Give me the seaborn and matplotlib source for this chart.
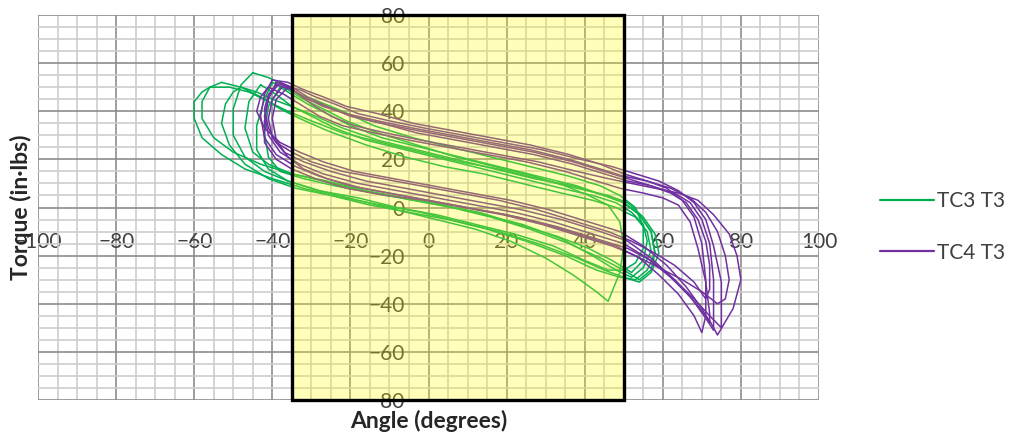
import pandas as pd
import matplotlib.pyplot as plt
import seaborn as sns
from matplotlib.ticker import MultipleLocator

# %% data
series_names = ["TC3 T3", "TC4 T3"]
series_colors = ["#00B050", "#7030A0"]
x_ticks = list(range(-100, 101, 20))
y_ticks = list(range(-80, 81, 20))
band_left, band_right = -35, 50  # shaded angle range

# TC3 T3, one list per cycle (upper branch left->right, then lower branch back)
tc3_angle = [
    [-53, -48, -43, -38, -33, -26, -16, -6, 4, 14, 24, 34, 42, 48, 53, 56, 57, 55, 52,
     48, 42, 34, 24, 14, 4, -6, -16, -26, -35, -43, -50, -55, -58, -58, -56, -53],
    [-45, -41, -37, -33, -28, -22, -14, -4, 6, 16, 26, 36, 44, 49, 53, 55, 55, 53, 50,
     46, 40, 32, 22, 12, 2, -8, -18, -28, -36, -42, -47, -50, -50, -48, -45],
    [-40, -36, -32, -27, -21, -13, -3, 7, 17, 27, 35, 41, 46, 49, 50, 49, 47, 46,
     43, 37, 30, 21, 12, 2, -8, -18, -28, -36, -41, -44, -44, -42, -40],
    [-38, -35, -31, -26, -20, -12, -2, 8, 18, 28, 38, 45, 50, 54, 57, 58, 57, 54,
     50, 44, 36, 26, 16, 6, -4, -14, -24, -32, -38, -41, -42, -41, -38],
    [-56, -51, -46, -41, -36, -30, -22, -12, -2, 8, 18, 28, 38, 46, 51, 55, 58, 59, 57, 54,
     50, 45, 38, 28, 18, 8, -2, -12, -22, -32, -40, -47, -53, -58, -60, -60, -58, -56],
    [-43, -39, -35, -30, -24, -16, -6, 4, 14, 24, 34, 42, 48, 52, 55, 56, 55, 52,
     47, 41, 33, 23, 13, 3, -7, -17, -27, -35, -41, -45, -47, -46, -43],
    [-48, -44, -40, -35, -29, -22, -13, -3, 7, 17, 27, 37, 45, 50, 54, 57, 58, 56, 53,
     49, 43, 35, 25, 15, 5, -5, -15, -25, -34, -41, -47, -51, -53, -52, -50, -48],
]
tc3_torque = [
    [52, 50, 46, 41, 37, 32, 26, 21, 17, 14, 10, 6, 3, 0, -4, -10, -18, -25, -29,
     -26, -20, -13, -7, -3, 1, 4, 7, 11, 14, 18, 23, 29, 37, 44, 50, 52],
    [56, 54, 51, 47, 44, 40, 34, 29, 25, 21, 17, 13, 9, 5, 0, -8, -17, -23, -26,
     -26, -22, -16, -11, -7, -3, 0, 4, 7, 11, 15, 21, 30, 41, 51, 56],
    [52, 49, 45, 41, 36, 31, 26, 21, 17, 13, 9, 5, 1, -6, -16, -27, -35, -39,
     -35, -28, -21, -14, -9, -5, -1, 3, 7, 11, 16, 24, 34, 45, 52],
    [50, 47, 43, 39, 34, 29, 25, 21, 17, 13, 9, 5, 2, -3, -10, -19, -26, -30,
     -26, -21, -15, -9, -4, 0, 3, 6, 9, 12, 15, 21, 31, 42, 50],
    [50, 50, 48, 44, 40, 36, 31, 27, 23, 19, 16, 12, 8, 5, 2, -4, -11, -19, -27, -31,
     -29, -26, -21, -15, -10, -6, -2, 1, 4, 8, 12, 16, 22, 29, 37, 44, 48, 50],
    [51, 47, 42, 38, 33, 28, 24, 20, 16, 12, 8, 5, 2, -2, -7, -14, -22, -27,
     -22, -17, -12, -7, -2, 1, 4, 7, 11, 14, 18, 23, 33, 44, 51],
    [50, 48, 45, 42, 38, 33, 28, 24, 20, 16, 12, 9, 5, 2, -3, -10, -19, -26, -30,
     -29, -26, -20, -14, -9, -5, -2, 1, 5, 8, 12, 18, 26, 35, 43, 48, 50],
]

# TC4 T3
tc4_angle = [
    [-38, -35, -31, -26, -20, -12, -3, 7, 17, 27, 37, 45, 51, 57, 63, 67, 70, 72, 73, 73,
     73, 71, 67, 62, 56, 50, 42, 32, 22, 12, 2, -8, -18, -27, -33, -38, -41, -42, -41, -38],
    [-40, -36, -32, -27, -21, -13, -4, 6, 16, 26, 36, 44, 50, 56, 61, 65, 68, 70, 71, 71,
     70, 68, 64, 59, 54, 48, 40, 30, 20, 10, 0, -10, -20, -28, -34, -39, -42, -43, -42, -40],
    [-37, -34, -30, -25, -19, -11, -2, 8, 18, 28, 38, 46, 52, 58, 64, 69, 73, 77, 79, 80, 78,
     74, 72, 68, 63, 57, 51, 44, 34, 24, 14, 4, -6, -16, -25, -32, -37, -40, -41, -40, -37],
    [-39, -36, -32, -27, -21, -13, -4, 6, 16, 26, 36, 44, 50, 56, 62, 67, 71, 74, 76, 77, 76,
     74, 70, 65, 59, 53, 47, 39, 29, 19, 9, -1, -11, -21, -29, -35, -39, -42, -42, -41, -39],
    [-41, -37, -33, -28, -22, -14, -5, 5, 15, 25, 35, 43, 49, 55, 60, 64, 67, 69, 71, 72,
     72, 70, 66, 61, 55, 49, 41, 31, 21, 11, 1, -9, -19, -27, -33, -38, -42, -44, -43, -41],
    [-36, -33, -29, -24, -18, -10, -1, 9, 19, 29, 39, 47, 53, 59, 64, 68, 71, 73, 75, 75,
     75, 72, 68, 63, 57, 51, 43, 33, 23, 13, 3, -7, -17, -26, -32, -36, -39, -40, -39, -36],
    [-39, -35, -31, -26, -20, -12, -3, 7, 17, 27, 37, 45, 51, 57, 62, 66, 69, 71, 72, 72,
     71, 68, 63, 58, 52, 46, 38, 28, 18, 8, -2, -12, -22, -30, -35, -39, -41, -42, -41, -39],
]
tc4_torque = [
    [52, 50, 46, 42, 38, 35, 31, 28, 25, 22, 18, 14, 11, 9, 6, 2, -5, -15, -30, -45,
     -51, -46, -37, -29, -21, -15, -11, -6, -2, 1, 4, 7, 10, 14, 18, 23, 30, 38, 46, 52],
    [53, 52, 49, 46, 42, 39, 35, 32, 29, 26, 22, 18, 14, 11, 8, 3, -4, -15, -30, -45,
     -52, -45, -36, -28, -21, -16, -12, -7, -3, 0, 3, 6, 9, 13, 17, 22, 29, 38, 47, 53],
    [51, 48, 43, 38, 34, 31, 28, 25, 22, 19, 15, 12, 10, 8, 6, 3, -3, -11, -20, -30, -42,
     -53, -47, -39, -30, -21, -14, -10, -5, -1, 2, 5, 8, 11, 15, 19, 23, 29, 37, 45, 51],
    [52, 50, 46, 42, 39, 36, 33, 30, 27, 24, 20, 16, 13, 11, 8, 4, -2, -10, -20, -30, -38,
     -40, -35, -30, -25, -20, -16, -12, -7, -3, 0, 3, 5, 8, 12, 16, 20, 27, 36, 45, 52],
    [50, 47, 43, 38, 34, 31, 28, 25, 22, 19, 15, 11, 8, 6, 4, 1, -6, -17, -31, -44,
     -48, -42, -33, -24, -16, -10, -6, -1, 3, 6, 9, 12, 15, 19, 23, 27, 33, 40, 46, 50],
    [50, 49, 46, 43, 39, 36, 33, 30, 27, 24, 20, 17, 14, 11, 7, 2, -5, -16, -31, -46,
     -50, -45, -38, -30, -22, -17, -13, -8, -4, -1, 2, 5, 8, 12, 16, 21, 28, 37, 45, 50],
    [51, 49, 45, 42, 38, 35, 32, 29, 26, 23, 19, 15, 12, 9, 6, 2, -5, -14, -24, -34,
     -38, -31, -24, -19, -14, -10, -6, -1, 3, 6, 9, 12, 15, 19, 23, 27, 33, 41, 47, 51],
]

# %% long table, one row per point
rows = []
for name, angles, torques in [(series_names[0], tc3_angle, tc3_torque),
                              (series_names[1], tc4_angle, tc4_torque)]:
    for k, (xs, ys) in enumerate(zip(angles, torques)):
        for a, t in zip(xs, ys):
            rows.append({"series": name, "cycle": f"{name} {k}", "angle": a, "torque": t})
df = pd.DataFrame(rows)

# %% plot
sns.set_style("white")
plt.rcParams["font.family"] = ["Lato", "DejaVu Sans"]

fig = plt.figure(figsize=(10.1, 4.34), dpi=100)
ax = fig.add_axes([38 / 1010, 34 / 434, 781 / 1010, 385 / 434])

sns.lineplot(
    data=df, x="angle", y="torque",
    hue="series", hue_order=series_names, palette=series_colors,
    units="cycle", estimator=None, sort=False,
    linewidth=1.1, ax=ax
)

ax.set_xlim(-100, 100)
ax.set_ylim(-80, 80)
ax.set_xticks(x_ticks)
ax.set_yticks(y_ticks)
ax.xaxis.set_minor_locator(MultipleLocator(5))
ax.yaxis.set_minor_locator(MultipleLocator(5))
ax.set_axisbelow(True)
ax.grid(which="minor", color="#cdcdcd", linewidth=1.2)
ax.grid(which="major", color="#8c8c8c", linewidth=1.2)

for s in ax.spines.values():
    s.set_visible(False)
ax.spines["left"].set_position(("data", 0))
ax.spines["bottom"].set_position(("data", -8))
ax.tick_params(which="both", length=0)
ax.tick_params(axis="x", pad=4, labelsize=15, labelcolor="#404040")
ax.tick_params(axis="y", pad=17, labelsize=15, labelcolor="#404040")

ax.set_xlabel("Angle (degrees)", fontsize=16.5, fontweight="bold", color="#262626")
ax.xaxis.set_label_coords(0.5, -0.026)
ax.set_ylabel("Torque (in·lbs)", fontsize=16.5, fontweight="bold", color="#262626")
ax.yaxis.set_label_coords(-0.008, 0.5)

# translucent highlight drawn over everything, black frame
ax.axvspan(band_left, band_right, facecolor=(1, 1, 0, 0.27),
           edgecolor="black", linewidth=2.4, zorder=5, clip_on=False)

handles, labels = ax.get_legend_handles_labels()
ax.get_legend().remove()
leg = fig.legend(
    handles, labels, loc="center left",
    bbox_to_anchor=(880 / 1010, 1 - 227 / 434), bbox_transform=fig.transFigure,
    frameon=False, fontsize=15, labelcolor="#404040",
    handlelength=2.6, handletextpad=0.15, labelspacing=1.5,
    borderpad=0, borderaxespad=0
)
for h in leg.get_lines():
    h.set_linewidth(1.6)

fig.savefig("out.png", dpi=100)
